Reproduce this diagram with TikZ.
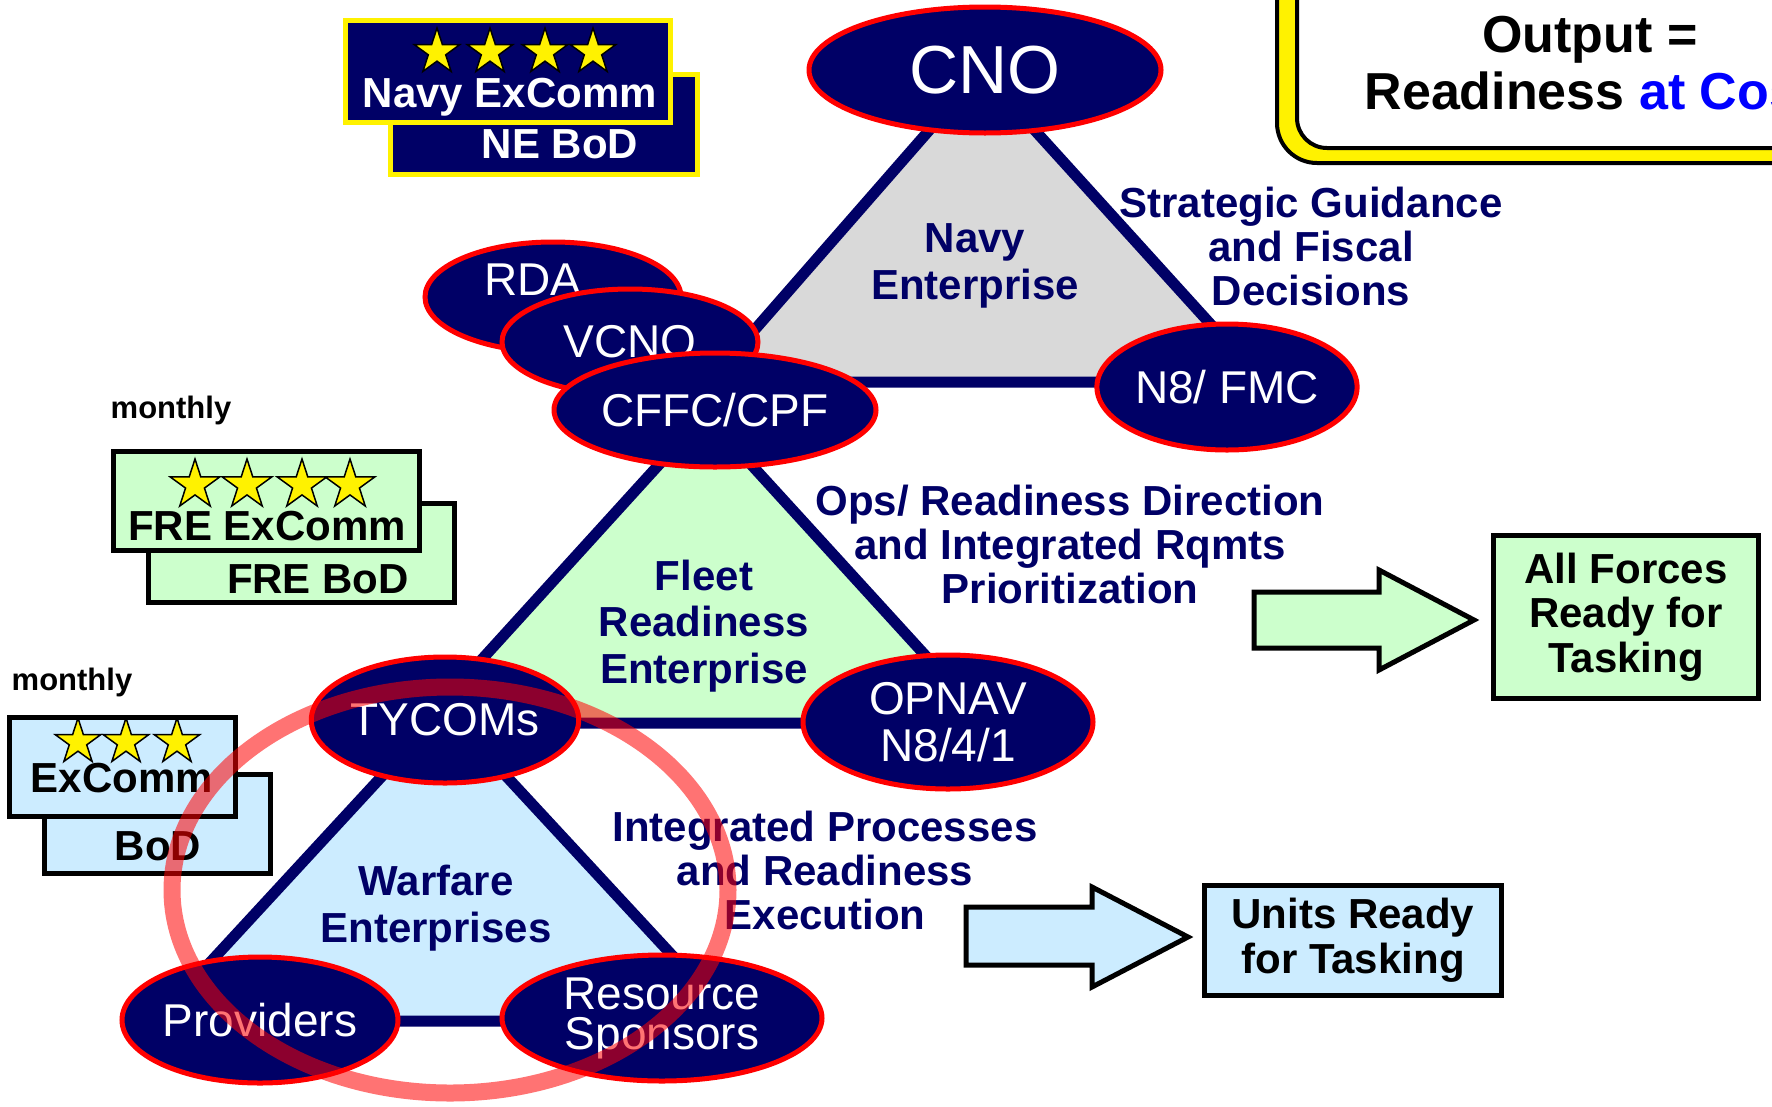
\documentclass[tikz,border=0pt]{standalone}
\usepackage{fontspec}
\setmainfont{Liberation Sans}
\usetikzlibrary{shapes.geometric}

\definecolor{navyblue}{RGB}{0,0,102}
\definecolor{negray}{RGB}{217,217,217}
\definecolor{fregreen}{RGB}{204,255,204}
\definecolor{weblue}{RGB}{204,236,255}

\newcommand{\lblsize}{\fontsize{42}{44}\selectfont\bfseries}
\newcommand{\lblwide}{\fontsize{42}{46.5}\selectfont\bfseries}
\newcommand{\ellsize}{\fontsize{46}{47}\selectfont}
\newcommand{\monthsize}{\fontsize{31}{31}\selectfont\bfseries}

\begin{document}
\begin{tikzpicture}[x=1pt, y=-1pt,
	enterprise/.style={draw=navyblue, line width=11pt, line join=round},
	org/.style={draw=red, fill=navyblue, ellipse, line width=5pt, inner sep=0pt, text=white, font=\ellsize, align=center},
	flow/.style={text=navyblue, font=\lblsize, align=center, inner sep=0pt},
	board/.style={draw=black, line width=5pt},
	boardtext/.style={font=\lblsize, anchor=base, inner sep=0pt},
	boardstar/.style={star, star points=5, star point ratio=2.618, fill=yellow, draw=black, line width=1.5pt, inner sep=0pt},
	result/.style={draw=black, line width=5pt, font=\lblsize, align=center, inner sep=0pt},
	bigarrow/.style={draw=black, line width=5pt, line join=miter}]
	\useasboundingbox (0,0) rectangle (1772,1106);
	\clip (0,0) rectangle (1772,1106);

		\begin{scope}
			\draw [line width=4pt, fill=yellow, rounded corners=40pt] (1277,-60) rectangle (1900,163);
			\draw [line width=4pt, fill=white, rounded corners=30pt] (1297,-60) rectangle (1900,148);
			\node [font=\fontsize{52}{57}\selectfont\bfseries, align=center, inner sep=0pt] (output) at (1590,63) {Output =\\Readiness \textcolor{blue}{at Cost}};
		\end{scope}

		\begin{scope}
			\draw [fill=navyblue, draw=yellow, line width=5pt] (390,74) rectangle (697,174);
			\draw [fill=navyblue, draw=yellow, line width=5pt] (345,20) rectangle (670,122);
			\foreach \x [count=\i] in {437,490,545,593}
				\node [boardstar, minimum size=48pt] (nestar\i) at (\x,52) {};
			\node [boardtext, text=white] (neexcomm) at (510,107) {Navy ExComm};
			\node [boardtext, text=white] (nebod) at (560,158) {NE BoD};
		\end{scope}

	\draw [enterprise, fill=negray] (981,71) -- (709,382) -- (1263,382) -- cycle;
	\draw [enterprise, fill=fregreen] (705,414) -- (424,723) -- (987,723) -- cycle;
	\draw [enterprise, fill=weblue] (444,709) -- (156,1021) -- (733,1021) -- cycle;

	\node [org, minimum width=256pt, minimum height=110pt] (rda) at (553,297) {};
	\node [font=\ellsize, text=white, inner sep=0pt] (rdatext) at ([shift={(-20,-17)}]rda.center) {RDA};
	\node [org, minimum width=256pt, minimum height=106pt] (vcno) at (630,342) {VCNO};
	\node [org, minimum width=322pt, minimum height=114pt] (cffc) at (715,410) {CFFC/CPF};
	\node [org, minimum width=352pt, minimum height=126pt, font=\fontsize{68}{68}\selectfont] (cno) at (985,70) {CNO};
	\node [org, minimum width=248pt, minimum height=126pt] (nefmc) at (1227,387) {N8/ FMC};
	\node [org, minimum width=290pt, minimum height=134pt] (opnav) at (948,722) {OPNAV\\N8/4/1};
	\node [org, minimum width=264pt, minimum height=126pt] (tycoms) at (445,720) {TYCOMs};
	\node [org, minimum width=276pt, minimum height=126pt] (providers) at (260,1020) {Providers};
	\node [org, minimum width=320pt, minimum height=126pt, font=\fontsize{46}{40}\selectfont] (sponsors) at (662,1018) {Resource\\Sponsors};

	\node [flow] (guidance) at (1311,246) {Strategic Guidance\\and Fiscal\\Decisions};
	\node [flow, font=\lblwide] (navyent) at (975,266) {Navy\\Enterprise};
	\node [flow] (opsdir) at (1070,544) {Ops/ Readiness Direction\\and Integrated Rqmts\\Prioritization};
	\node [flow, font=\lblwide] (freent) at (704,626) {Fleet\\Readiness\\Enterprise};
	\node [flow, font=\lblwide] (warent) at (436,908) {Warfare\\Enterprises};
	\node [flow] (intproc) at (825,870) {Integrated Processes\\and Readiness\\Execution};

		\begin{scope}
			\node [boardtext, font=\monthsize] (monthlyfre) at (171,418) {monthly};
			\draw [board, fill=fregreen] (148,503) rectangle (454,602);
			\draw [board, fill=fregreen] (113,451) rectangle (419,550);
			\foreach \x [count=\i] in {195,247,302,350}
				\node [boardstar, minimum size=52pt] (frestar\i) at (\x,485) {};
			\node [boardtext] (freexcomm) at (267,540) {FRE ExComm};
			\node [boardtext] (frebod) at (318,593) {FRE BoD};
		\end{scope}

		\begin{scope}
			\node [boardtext, font=\monthsize] (monthlywe) at (72,690) {monthly};
			\draw [board, fill=weblue] (44,774) rectangle (270,873);
			\draw [board, fill=weblue] (9,717) rectangle (235,816);
			\foreach \x [count=\i] in {78,126,177}
				\node [boardstar, minimum size=48pt] (westar\i) at (\x,742) {};
			\node [boardtext] (weexcomm) at (122,792) {ExComm};
			\node [boardtext] (webod) at (158,860) {BoD};
		\end{scope}

	\draw [bigarrow, fill=fregreen] (1254,592) -- (1379,592) -- (1379,570) -- (1474,620) -- (1379,670) -- (1379,648) -- (1254,648) -- cycle;
	\draw [bigarrow, fill=weblue] (966,907) -- (1092,907) -- (1092,887) -- (1188,937) -- (1092,987) -- (1092,965) -- (966,965) -- cycle;

	\node [result, fill=fregreen, minimum width=265pt, minimum height=163pt, font=\fontsize{42}{44.5}\selectfont\bfseries] (allforces) at (1626,617) {All Forces\\Ready for\\Tasking};
	\node [result, fill=weblue, minimum width=297pt, minimum height=110pt, font=\fontsize{42}{45}\selectfont\bfseries] (unitsready) at (1353,940) {Units Ready\\for Tasking};

	\draw [red, line width=17pt, draw opacity=0.55] (450,890) ellipse [x radius=278, y radius=203];
\end{tikzpicture}
\end{document}
